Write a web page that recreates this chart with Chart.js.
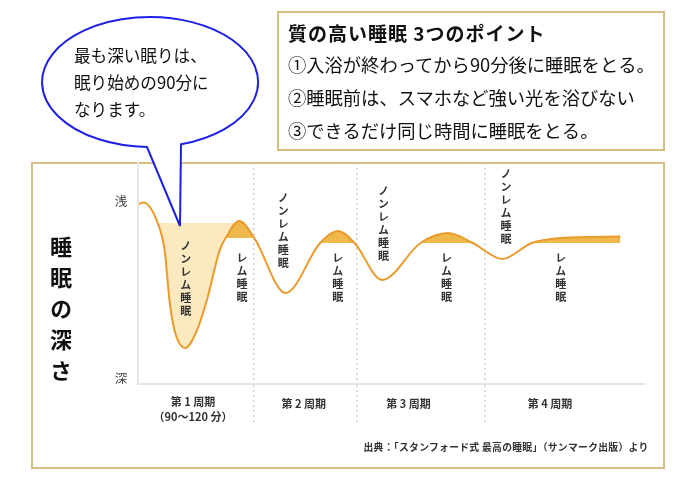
<!DOCTYPE html>
<html lang="ja">
<head>
<meta charset="utf-8">
<script src="https://cdn.jsdelivr.net/npm/chart.js@4.4.1/dist/chart.umd.min.js"></script>
<style>
  body { margin: 0; background: #fff; font-family: "Noto Sans CJK JP", "Noto Sans", sans-serif; color: #222; }
  #wrap { position: relative; width: 700px; height: 496px; overflow: hidden; }
  #frame { position: absolute; left: 31px; top: 162px; width: 634px; height: 307px; box-sizing: border-box; border: 2px solid #d9be84; }
  #chart { position: absolute; left: 0; top: 0; }
  #points { position: absolute; left: 277px; top: 11px; width: 388px; height: 140px; box-sizing: border-box; border: 2px solid #d9be84; background: #fff; }
  #points .title { position: absolute; left: 9px; top: 10px; font-size: 19px; line-height: 20px; font-weight: 700; color: #111; white-space: nowrap; letter-spacing: 1px; }
  #points .lines { position: absolute; left: 9px; top: 35px; font-size: 18.3px; line-height: 33px; color: #111; white-space: nowrap; }
  #bubble { position: absolute; left: 0; top: 0; }
  #bubbleText { position: absolute; left: 74px; top: 42px; font-size: 16.6px; line-height: 27px; color: #111; white-space: nowrap; }
  #axisTitle { position: absolute; left: 50px; top: 236px; font-size: 22px; line-height: 22px; font-weight: 700; color: #111;
               writing-mode: vertical-rl; text-orientation: upright; letter-spacing: 9px; }
  #source { position: absolute; left: 506px; top: 447px; transform: translate(-50%, -50%); font-size: 9.8px; font-weight: 700; color: #333; white-space: nowrap; letter-spacing: 0.3px; }
  .hlabel { position: absolute; transform: translate(-50%, -50%); white-space: nowrap; }
  .vlabel { position: absolute; transform: translateX(-50%); writing-mode: vertical-rl; text-orientation: upright; white-space: nowrap; }
  .cyc { font-size: 11px; font-weight: 700; color: #333; }
  .depth { font-size: 12.5px; color: #444; }
  .stage { font-size: 11px; line-height: 11px; font-weight: 700; color: #333; letter-spacing: 2px; }
</style>
</head>
<body>
<div id="wrap">
  <div id="frame"></div>
  <canvas id="chart" width="700" height="496"></canvas>
  <div id="labels"></div>
  <div id="axisTitle">睡眠の深さ</div>
  <div id="source">出典：「スタンフォード式 最高の睡眠」（サンマーク出版）より</div>
  <svg id="bubble" width="700" height="496">
    <path d="M147,147 A108,65 0 1 1 181,144.3 L180,226 Z" fill="#fff" stroke="#1f1fe6" stroke-width="2" stroke-linejoin="miter"/>
  </svg>
  <div id="bubbleText">最も深い眠りは、<br>眠り始めの90分に<br>なります。</div>
  <div id="points">
    <div class="title">質の高い睡眠 3つのポイント</div>
    <div class="lines">①入浴が終わってから90分後に睡眠をとる。<br>②睡眠前は、スマホなど強い光を浴びない<br>③できるだけ同じ時間に睡眠をとる。</div>
  </div>
</div>
<script>
// sleep curve (x: minutes after falling asleep, y: depth, 0 = 浅, 100 = 深)
const sleepMinutes = [1, 5, 18.6, 25.2, 29.8, 34.5, 44.7, 55.9, 65.2, 77.4, 83.0, 96.0, 110, 139.8, 172.4, 189.2, 205, 231.1, 267.5, 293.6, 316.9, 344.9, 372.8, 400.8, 456.7];
const sleepDepth   = [18.6, 17.9, 27.1, 39.4, 62.0, 75.6, 83.7, 75.6, 62.0, 39.4, 33.9, 26.2, 33.9, 58.8, 36.2, 30.8, 36.2, 52.9, 36.2, 31.7, 36.2, 43.4, 36.2, 33.9, 33.3];

// cycles (dotted separators) and their labels
const cycleEdges  = [110, 207, 328];
const cycleLabels = ['第 1 周期', '第 2 周期', '第 3 周期', '第 4 周期'];
const cycleLabelX = [52, 157, 256, 390];
const cycleNote   = '（90〜120 分）';

// depth tick labels
const depthTickValues = [16.7, 96.8];
const depthTickLabels = ['浅', '深'];

// shaded parts: first deep non-REM dip, and the REM humps
const deepLevel = 27.1;
const deepRange = [18.6, 96.0];
const remStart  = [83.0, 172.4, 267.5, 372.8];
const remEnd    = [110, 205, 316.9, 456.7];
const remLevel  = [33.9, 36.2, 36.2, 36.2];

// stage labels
const nremText = 'ノンレム睡眠';
const remText  = 'レム睡眠';
const nremX    = [44.7, 137, 232, 348];
const nremTop  = [34.8, 13.1, 10.0, 2.3];
const remX     = [97.9, 188.6, 291.7, 399.8];
const remTop   = [40.3, 40.3, 40.3, 40.3];

const curve = sleepMinutes.map((m, i) => ({ x: m, y: sleepDepth[i] }));

function rangeFill(from, to, color) {
  return ctx => (sleepMinutes[ctx.p0DataIndex] >= from && sleepMinutes[ctx.p1DataIndex] <= to) ? color : 'transparent';
}

const fillBase = {
  data: curve,
  borderWidth: 0,
  borderColor: 'transparent',
  backgroundColor: 'transparent',
  pointRadius: 0,
  cubicInterpolationMode: 'monotone',
  order: 2
};

const datasets = [{
  label: '睡眠の深さ',
  data: curve,
  borderColor: '#eb9a2c',
  borderWidth: 2,
  pointRadius: 0,
  fill: false,
  cubicInterpolationMode: 'monotone',
  order: 0
}, {
  ...fillBase,
  fill: { target: { value: deepLevel } },
  segment: { backgroundColor: rangeFill(deepRange[0], deepRange[1], '#fce9bf') }
}];

remStart.forEach((s, i) => {
  datasets.push({
    ...fillBase,
    order: 1,
    fill: { target: { value: remLevel[i] } },
    segment: { backgroundColor: rangeFill(s, remEnd[i], '#eeb84a') }
  });
});

const chart = new Chart(document.getElementById('chart'), {
  type: 'line',
  data: { datasets },
  options: {
    responsive: false,
    animation: false,
    events: [],
    layout: { padding: { left: 130, top: 163, right: 55, bottom: 71 } },
    plugins: { legend: { display: false }, tooltip: { enabled: false } },
    scales: {
      x: {
        type: 'linear',
        min: 0,
        max: 480,
        afterBuildTicks: s => { s.ticks = cycleEdges.map(v => ({ value: v })); },
        ticks: { display: false },
        grid: { color: '#d2d2d2', lineWidth: 1.5, tickLength: 41, tickColor: '#d2d2d2', tickWidth: 1.5, tickBorderDash: [2, 3] },
        border: { display: true, color: '#e4e4e4', width: 2, dash: [2, 3] }
      },
      y: {
        min: 0,
        max: 100,
        reverse: true,
        ticks: { display: false },
        grid: { display: false },
        border: { display: true, color: '#e6e6e6', width: 2 }
      }
    }
  }
});

// text labels placed through the chart's own scales
const sx = chart.scales.x, sy = chart.scales.y, area = chart.chartArea;
const labels = document.getElementById('labels');
function addLabel(text, x, y, cls) {
  const el = document.createElement('div');
  el.className = cls;
  el.textContent = text;
  el.style.left = x + 'px';
  el.style.top = y + 'px';
  labels.appendChild(el);
}
cycleLabels.forEach((t, i) => addLabel(t, sx.getPixelForValue(cycleLabelX[i]), area.bottom + (i === 0 ? 17 : 19), 'hlabel cyc'));
addLabel(cycleNote, sx.getPixelForValue(cycleLabelX[0]), area.bottom + 32, 'hlabel cyc');
depthTickLabels.forEach((t, i) => addLabel(t, area.left - 17, sy.getPixelForValue(depthTickValues[i]), 'hlabel depth'));
nremX.forEach((v, i) => addLabel(nremText, sx.getPixelForValue(v), sy.getPixelForValue(nremTop[i]), 'vlabel stage'));
remX.forEach((v, i) => addLabel(remText, sx.getPixelForValue(v), sy.getPixelForValue(remTop[i]), 'vlabel stage'));
</script>
</body>
</html>
